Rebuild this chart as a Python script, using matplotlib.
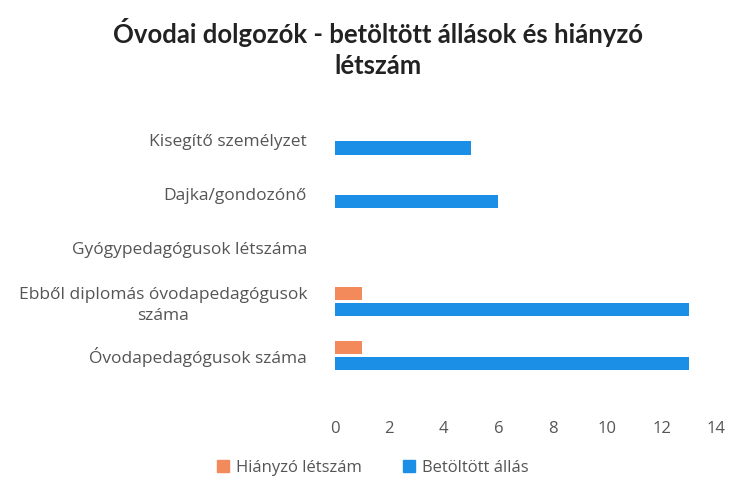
import numpy as np
import matplotlib.pyplot as plt
from matplotlib.patches import Patch

categories = [
    "Óvodapedagógusok száma",
    "Ebből diplomás óvodapedagógusok\nszáma",
    "Gyógypedagógusok létszáma",
    "Dajka/gondozónő",
    "Kisegítő személyzet",
]
hianyzo = [1, 1, 0, 0, 0]
betoltott = [13, 13, 0, 6, 5]

orange = "#f28a5b"
blue = "#1b8fe6"
gray = "#555555"

plt.rcParams["font.family"] = ["Open Sans", "DejaVu Sans"]

fig = plt.figure(figsize=(7.31, 4.84), dpi=100)
ax = fig.add_axes([0.458, 0.21, 0.522, 0.557])

y = np.arange(len(categories))
h = 0.25
ax.barh(y + 0.15, hianyzo, height=h, color=orange, label="Hiányzó létszám")
ax.barh(y - 0.15, betoltott, height=h, color=blue, label="Betöltött állás")

ax.set_xlim(0, 14)
ax.set_ylim(-0.5, 4.5)
ax.set_xticks(range(0, 15, 2))
ax.set_yticks(y)
ax.set_yticklabels(categories, fontsize=12.5, color=gray, ha="right",
                   multialignment="center", linespacing=1.4)
ax.tick_params(axis="x", labelsize=12, colors=gray, length=0, pad=28)
ax.tick_params(axis="y", length=0, pad=20)
for s in ax.spines.values():
    s.set_visible(False)

fig.text(0.517, 0.9, "Óvodai dolgozók - betöltött állások és hiányzó\nlétszám",
         ha="center", va="center", fontsize=18.5, fontweight="bold", color="#222222",
         family=["Lato", "DejaVu Sans"], linespacing=1.35)

handles = [Patch(color=orange), Patch(color=blue)]
fig.legend(handles, ["Hiányzó létszám", "Betöltött állás"], loc="center",
           bbox_to_anchor=(0.51, 0.033), ncol=2, frameon=False, fontsize=12,
           labelcolor=gray, handlelength=0.7, handleheight=0.7, handletextpad=0.4,
           columnspacing=2.5)

plt.savefig("out.png", dpi=100)
